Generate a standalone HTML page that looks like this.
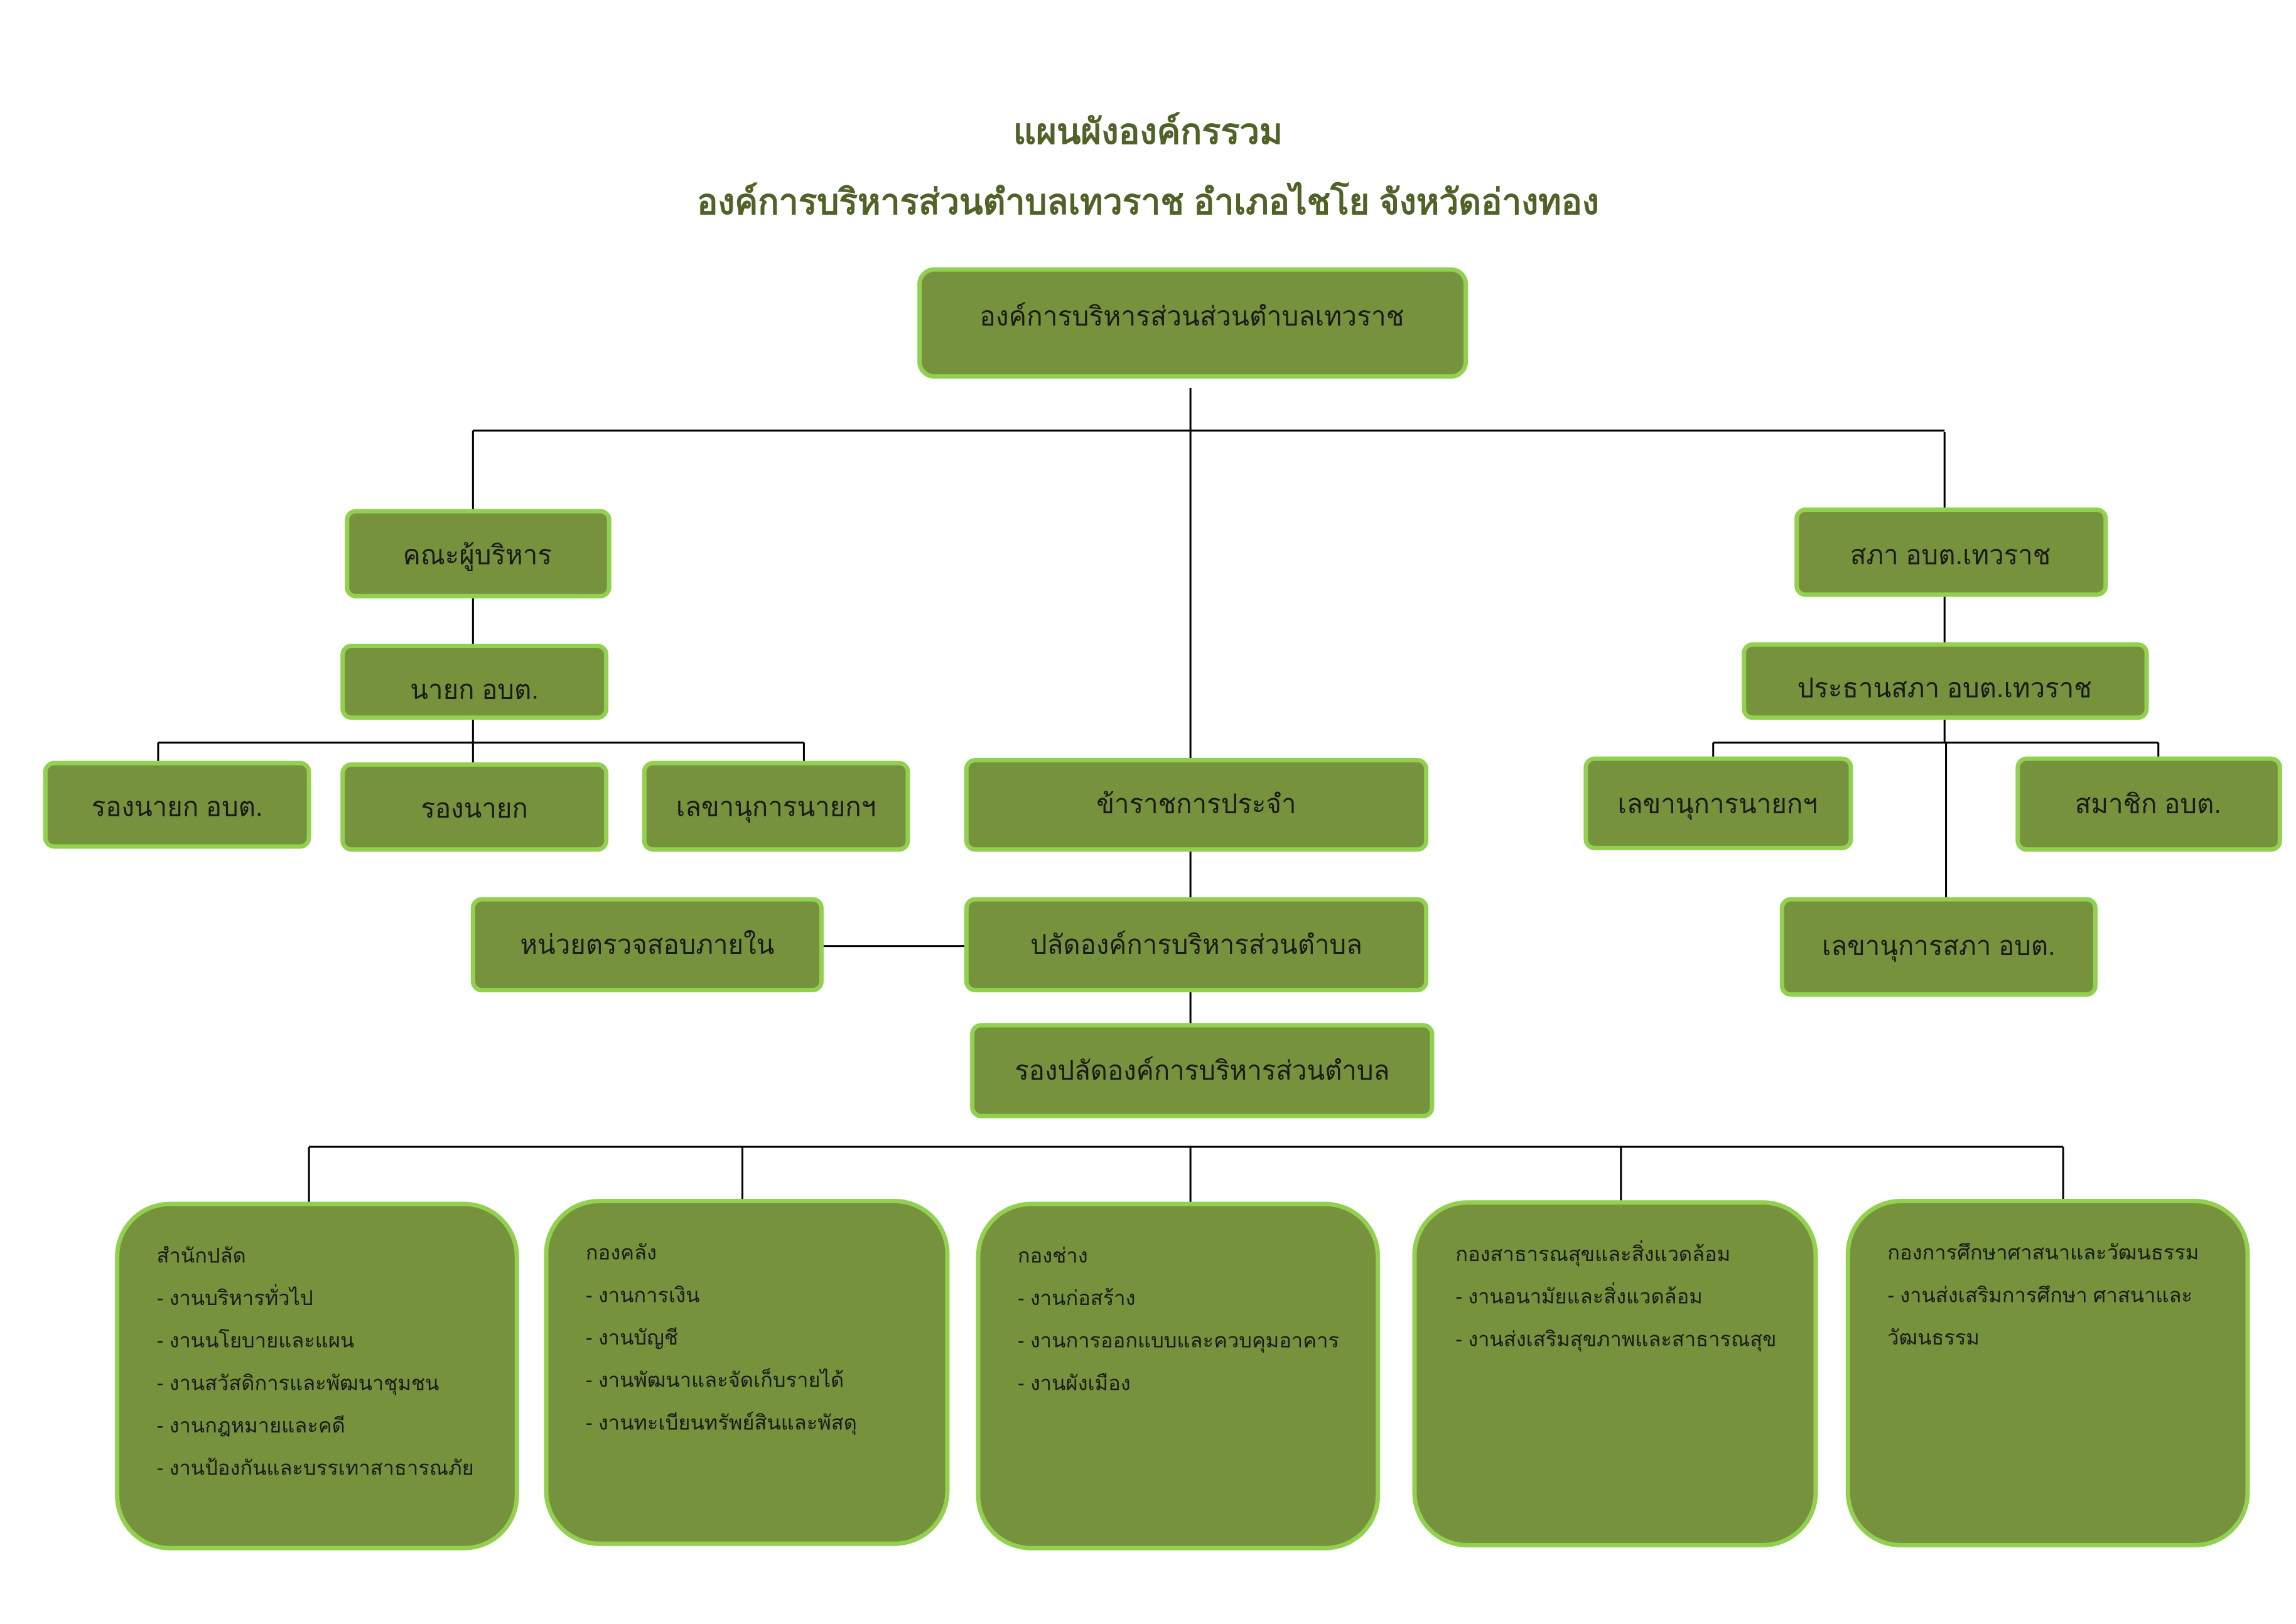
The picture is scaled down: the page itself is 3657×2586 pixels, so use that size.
<!DOCTYPE html>
<html><head><meta charset="utf-8"><style>
html,body{margin:0;padding:0;background:#fff}
svg{display:block}
text{font-family:"Liberation Sans","Noto Sans CJK SC",sans-serif;fill:#1a1a1a}
.b{fill:#76923c;stroke:#92d050;stroke-width:3}
.l{stroke:#000;stroke-width:1.3;fill:none}
.c{font-size:18px;text-anchor:middle}
.s{font-size:14px}
.t{font-size:24px;font-weight:bold;fill:#4f6228;text-anchor:middle}
</style></head><body>
<svg width="3657" height="2586" viewBox="0 0 1568 1108.8" xmlns="http://www.w3.org/2000/svg">
<text class="t" x="784" y="98" textLength="184" lengthAdjust="spacingAndGlyphs">แผนผังองค์กรรวม</text>
<text class="t" x="784" y="146" textLength="616" lengthAdjust="spacingAndGlyphs">องค์การบริหารส่วนตำบลเทวราช อำเภอไชโย จังหวัดอ่างทอง</text>

<g class="l">
<path d="M813 265V519M323 294H1328M323 294V348M1328 295V348"/>
<path d="M323 407V440M323 490V521M108 507H549M108 507V520M549 507V521"/>
<path d="M813 580V614M561 646H660M813 676V700"/>
<path d="M211 783H1409M211 783V822M507 783V820M813 783V822M1107 783V822M1409 783V822"/>
<path d="M1328 406V440M1328 490V507M1170 507H1474M1170 507V518M1474 507V518M1329 507V614"/>
</g>

<rect class="b" x="628" y="184" width="373" height="73" rx="10"/>
<text class="c" x="814" y="222" textLength="290" lengthAdjust="spacingAndGlyphs">องค์การบริหารส่วนส่วนตำบลเทวราช</text>

<rect class="b" x="237" y="349" width="179" height="58" rx="6"/>
<text class="c" x="326" y="385">คณะผู้บริหาร</text>
<rect class="b" x="234" y="441" width="180" height="49" rx="6"/>
<text class="c" x="324" y="477">นายก อบต.</text>
<rect class="b" x="31" y="521" width="180" height="57" rx="6"/>
<text class="c" x="121" y="557">รองนายก อบต.</text>
<rect class="b" x="234" y="522" width="180" height="58" rx="6"/>
<text class="c" x="324" y="558">รองนายก</text>
<rect class="b" x="440" y="521" width="180" height="59" rx="6"/>
<text class="c" x="530" y="557">เลขานุการนายกฯ</text>

<rect class="b" x="660" y="519" width="314" height="61" rx="6"/>
<text class="c" x="817" y="555">ข้าราชการประจำ</text>
<rect class="b" x="323" y="614" width="238" height="62" rx="6"/>
<text class="c" x="442" y="651">หน่วยตรวจสอบภายใน</text>
<rect class="b" x="660" y="614" width="314" height="62" rx="6"/>
<text class="c" x="817" y="651">ปลัดองค์การบริหารส่วนตำบล</text>
<rect class="b" x="664" y="700" width="314" height="62" rx="6"/>
<text class="c" x="821" y="737">รองปลัดองค์การบริหารส่วนตำบล</text>

<rect class="b" x="1227" y="348" width="211" height="58" rx="6"/>
<text class="c" x="1332" y="385">สภา อบต.เทวราช</text>
<rect class="b" x="1191" y="440" width="275" height="50" rx="6"/>
<text class="c" x="1328" y="476">ประธานสภา อบต.เทวราช</text>
<rect class="b" x="1083" y="518" width="181" height="61" rx="6"/>
<text class="c" x="1173" y="555">เลขานุการนายกฯ</text>
<rect class="b" x="1378" y="518" width="179" height="62" rx="6"/>
<text class="c" x="1467" y="555">สมาชิก อบต.</text>
<rect class="b" x="1217" y="614" width="214" height="65" rx="6"/>
<text class="c" x="1324" y="652">เลขานุการสภา อบต.</text>

<rect class="b" x="80" y="822" width="273" height="235" rx="36"/>
<g class="s">
<text x="107" y="862">สำนักปลัด</text>
<text x="107" y="891">- งานบริหารทั่วไป</text>
<text x="107" y="920">- งานนโยบายและแผน</text>
<text x="107" y="949">- งานสวัสดิการและพัฒนาชุมชน</text>
<text x="107" y="978">- งานกฎหมายและคดี</text>
<text x="107" y="1007">- งานป้องกันและบรรเทาสาธารณภัย</text>
</g>
<rect class="b" x="373" y="820" width="274" height="234" rx="36"/>
<g class="s">
<text x="400" y="860">กองคลัง</text>
<text x="400" y="889">- งานการเงิน</text>
<text x="400" y="918">- งานบัญชี</text>
<text x="400" y="947">- งานพัฒนาและจัดเก็บรายได้</text>
<text x="400" y="976">- งานทะเบียนทรัพย์สินและพัสดุ</text>
</g>
<rect class="b" x="668" y="822" width="273" height="235" rx="36"/>
<g class="s">
<text x="695" y="862">กองช่าง</text>
<text x="695" y="891">- งานก่อสร้าง</text>
<text x="695" y="920">- งานการออกแบบและควบคุมอาคาร</text>
<text x="695" y="949">- งานผังเมือง</text>
</g>
<rect class="b" x="966" y="821" width="274" height="234" rx="36"/>
<g class="s">
<text x="994" y="861">กองสาธารณสุขและสิ่งแวดล้อม</text>
<text x="994" y="890">- งานอนามัยและสิ่งแวดล้อม</text>
<text x="994" y="919">- งานส่งเสริมสุขภาพและสาธารณสุข</text>
</g>
<rect class="b" x="1262" y="820" width="273" height="235" rx="36"/>
<g class="s">
<text x="1289" y="860">กองการศึกษาศาสนาและวัฒนธรรม</text>
<text x="1289" y="889">- งานส่งเสริมการศึกษา ศาสนาและ</text>
<text x="1289" y="918">วัฒนธรรม</text>
</g>
</svg>
</body></html>
